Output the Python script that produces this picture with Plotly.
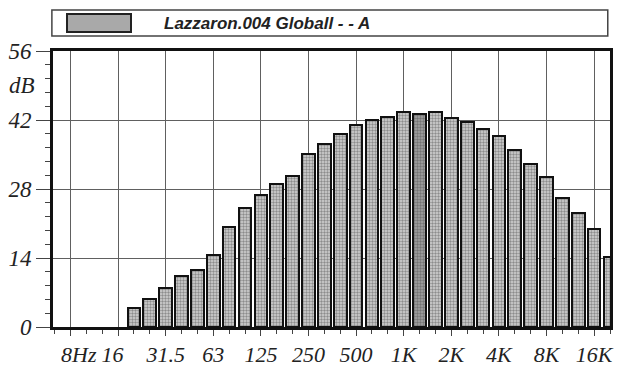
import math
import plotly.graph_objects as go

# Third-octave band centre frequencies (Hz) and their labels
band_freqs = [20, 25, 31.5, 40, 50, 63, 80, 100, 125, 160, 200, 250, 315, 400, 500,
              630, 800, 1000, 1250, 1600, 2000, 2500, 3150, 4000, 5000, 6300, 8000,
              10000, 12500, 16000, 20000]
band_labels = ["20", "25", "31.5", "40", "50", "63", "80", "100", "125", "160", "200",
               "250", "315", "400", "500", "630", "800", "1K", "1.25K", "1.6K", "2K",
               "2.5K", "3.15K", "4K", "5K", "6.3K", "8K", "10K", "12.5K", "16K", "20K"]
# Sound level per band (dB, A-weighted)
levels_db = [3.8, 5.7, 8.0, 10.3, 11.6, 14.6, 20.2, 24.2, 26.8, 29.1, 30.7, 35.2, 37.1,
             39.1, 40.9, 42.1, 42.7, 43.7, 43.2, 43.6, 42.5, 41.5, 40.2, 38.7, 35.9,
             33.0, 30.5, 26.1, 23.1, 19.9, 14.3]
highlight_label = "1.25K"

# Octave tick frequencies and labels
tick_freqs = [8, 16, 31.5, 63, 125, 250, 500, 1000, 2000, 4000, 8000, 16000]
tick_labels = ["\u00a0\u00a0\u00a08Hz", "16\u00a0\u00a0", "31.5", "63", "125", "250",
               "500", "1K", "2K", "4K", "8K", "16K"]
y_ticks = [0, 14, 28, 42, 56]
series_name = "Lazzaron.004 Globall - - A"


def band_no(f):
    return round(3 * math.log2(f / 1000.0))


x_bands = [band_no(f) for f in band_freqs]
x_ticks = [band_no(f) for f in tick_freqs]

fg = ["#555555" if lb == highlight_label else "#6a6a6a" for lb in band_labels]
bg = ["#a4a4a4" if lb == highlight_label else "#d4d4d4" for lb in band_labels]

fig = go.Figure()
fig.add_trace(go.Bar(
    x=x_bands, y=levels_db, name=series_name, width=0.8,
    customdata=band_labels,
    hovertemplate="%{customdata} Hz: %{y} dB<extra></extra>",
    marker=dict(
        color=bg,
        line=dict(color="#111111", width=2),
        pattern=dict(shape=".", fgcolor=fg, bgcolor=bg, size=3, solidity=0.5),
    ),
    showlegend=False,
))

tick_font = dict(family="Liberation Serif", size=23, color="#222222", style="italic")
xtick_font = dict(family="Liberation Serif", size=22, color="#222222", style="italic")

fig.update_layout(
    width=621, height=369,
    margin=dict(l=53, r=11, t=51, b=42),
    paper_bgcolor="white", plot_bgcolor="white",
    bargap=0,
    xaxis=dict(
        range=[-22.1, 13.0],
        tickmode="array", tickvals=x_ticks, ticktext=tick_labels,
        tickfont=xtick_font, tickangle=0, automargin=False,
        ticks="outside", ticklen=6, tickwidth=1, tickcolor="#444444",
        minor=dict(dtick=1, tick0=0, ticks="outside", ticklen=4, tickcolor="#444444",
                   showgrid=False),
        showgrid=True, gridcolor="#606060", gridwidth=1,
        showline=True, linecolor="#111111", linewidth=3, mirror=True,
        zeroline=False, fixedrange=True,
    ),
    yaxis=dict(
        range=[0, 56],
        tickmode="array", tickvals=y_ticks,
        tickfont=tick_font, automargin=False,
        ticks="outside", ticklen=14, tickwidth=1, tickcolor="#444444",
        minor=dict(dtick=2.8, tick0=0, ticks="outside", ticklen=5, tickcolor="#444444",
                   showgrid=False),
        showgrid=True, gridcolor="#606060", gridwidth=1,
        showline=True, linecolor="#111111", linewidth=3, mirror=True,
        zeroline=False, fixedrange=True,
    ),
    shapes=[
        # legend frame
        dict(type="rect", xref="paper", yref="paper",
             x0=-0.002, x1=0.996, y0=(327 - 36) / 276, y1=(327 - 10) / 276,
             line=dict(color="#444444", width=1.5), fillcolor="white", layer="above"),
        # legend swatch
        dict(type="rect", xref="paper", yref="paper",
             x0=(67 - 53) / 557, x1=(131 - 53) / 557,
             y0=(327 - 32) / 276, y1=(327 - 14) / 276,
             line=dict(color="#222222", width=2), fillcolor="#a9a9a9", layer="above"),
    ],
    annotations=[
        dict(text=series_name, xref="paper", yref="paper",
             x=(162 - 53) / 557, y=(327 - 23) / 276, xanchor="left", yanchor="middle",
             showarrow=False,
             font=dict(family="Liberation Sans", size=17, color="#222222",
                       weight="bold", style="italic")),
        dict(text="dB", xref="paper", yref="y", x=0, y=49, xanchor="right",
             yanchor="middle", xshift=-16, showarrow=False, font=tick_font),
    ],
)

fig.write_html("out.html")
